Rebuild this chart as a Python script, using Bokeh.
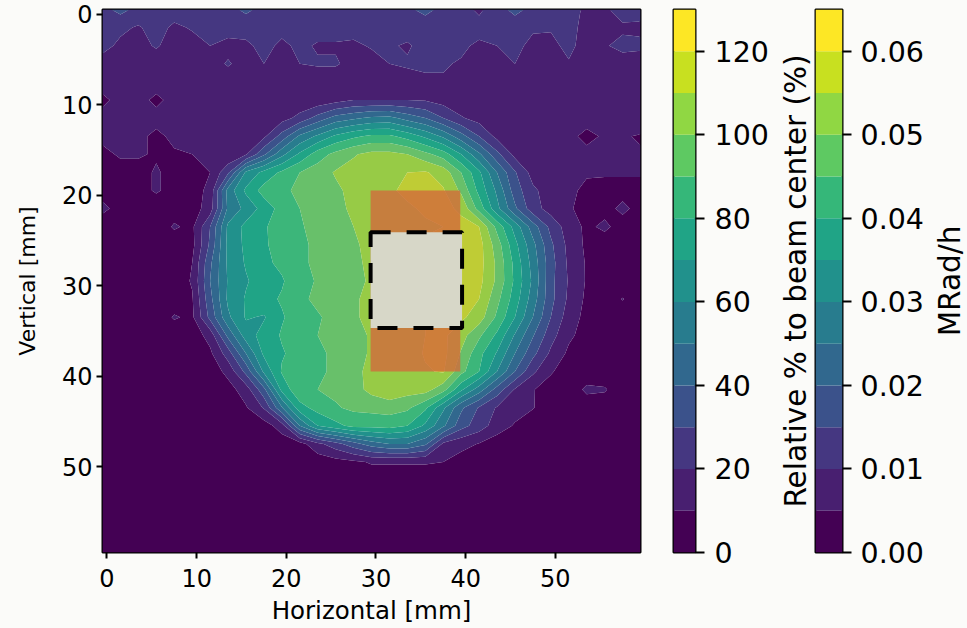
from bokeh.plotting import figure
from bokeh.layouts import row
from bokeh.models import FixedTicker, NumeralTickFormatter, Range1d, GlobalInlineStyleSheet, LinearAxis
from bokeh.embed import file_html
from bokeh.resources import INLINE

x_mm = [-0.5,1.5,3.5,5.5,7.5,9.5,11.5,13.5,15.5,17.5,19.5,21.5,23.5,25.5,27.5,29.5,31.5,33.5,35.5,37.5,39.5,41.5,43.5,45.5,47.5,49.5,51.5,53.5,55.5,57.5,59.5]
y_mm = list(x_mm)
dose = [
[27,33,27,26,25,25,26,27,32,27, 27,20,22,27,27,27,27,28,33,27, 24,18,26,33,27,27,24,18,18,25, 24],
[24,22,19,24,18,21,23,24,24,24, 23,24,24,24,24,24,24,24,24,24, 24,24,24,24,21,21,24,16,18,18, 18],
[23,18,17,21,16,16,20,17,18,23, 18,22,19,19,18,21,21,19,23,23, 22,18,20,22,18,17,23,15,19,23, 22],
[16,15,15,15,15,14,16,21,16,20, 17,20,21,21,17,16,20,21,22,21, 19,17,17,20,17,16,19,14,15,15, 15],
[14,14,14,14,14,14,14,14,14,14, 14,14,14,14,14,16,19,17,18,19, 14,14,14,14,14,14,14,14,14,14, 14],
[8,13,13,8,13,13,13,13,13,13, 13,13,13,16,20,20,20,20,19,16, 13,13,13,13,13,13,13,13,13,13, 13],
[13,13,13,13,13,13,13,13,13,14, 16,23,34,44,48,52,53,46,40,30, 21,16,14,17,14,13,13,13,13,13, 18],
[12,12,12,8,12,12,12,12,12,18, 34,52,62,72,78,82,82,76,68,58, 44,30,17,13,12,12,12,8,11,11, 9],
[8,11,11,9,9,10,12,11,19,38, 57,72,85,93,99,103,103,100,93,85, 70,52,33,17,13,12,12,12,11,11, 11],
[7,7,7,11,7,7,10,28,62,73, 82,90,95,101,104,106,107,110,111,106, 90,72,50,31,16,12,11,10.5,11,11, 11],
[7,7,7,11,7,5,13,54,72,84, 88,92,95,98,103,106,108,113,114,111, 98,77,58,35,22,15,11,9,7,7, 7],
[12,7,9,5,6,5,15,52,63,74, 84,90,93,97,102,105,105,108,112,113, 108,86,63,42,24,16,11,7,7,12, 7],
[5,5,5,5,11,8,30,62,73,79, 84,89,93,97,100,103,104,106,108,110, 113,110,87,66,45,27,15,8,12,6, 6],
[5,5,5,5,5,7,32,63,72,79, 83,88,92,95,99,102,108,110,112,112, 113,114,95,73,53,32,17,8,5,5, 5],
[5,5,5,5,5,10,38,62,71,78, 82,88,92,96,99,101,105,108,110,112, 114,114,98,77,56,34,18,9,5,5, 5],
[4,4,4,4,4,11,40,61,69,75, 79,86,91,95,98,101,105,108,110,112, 115,113,98,78,58,33,19,9,4,4, 4],
[4,4,4,4,4,9,37,62,71,77, 81,88,92,96,99,102,105,108,110,112, 113,110,93,75,55,33,18,8,4,10.5, 4],
[4,4,4,4,11,8,33,58,71,69, 79,85,89,93,98,104,105,108,110,112, 112,105,88,70,50,30,15,7,4,4, 4],
[4,4,4,4,4,4,14,43,65,74, 81,85,90,93,97,101,104,106,110,112, 104,92,78,59,41,24,12,6,4,4, 4],
[4,4,4,4,4,4,8,25,50,72, 79,84,88,92,97,101,103,105,111,113, 99,83,69,50,33,18,8,4,4,4, 4],
[4,4,4,4,4,4,4,13,33,62, 81,84,88,92,97,103,105,107,109,111, 93,80,60,40,22,11,5,4,4,4, 4],
[4,4,4,4,4,4,4,6,15,37, 73,88,90,92,96,103,108,104,104,94, 72,55,36,19,10.5,6,4,12,11,4, 4],
[4,4,4,4,4,4,4,4,9,21, 49,76,84,89,92,93,94,92,82,62, 42,29,19,14,10.5,5,4,4,4,4, 4],
[4,4,4,4,4,4,4,4,4,5, 15,50,70,77,83,83,84,80,68,52, 34,25,15,9,5,4,4,4,4,4, 4],
[4,4,4,4,4,4,4,4,4,4, 4,6,17,26,36,45,50,50,42,18, 13,9.5,5,4,4,4,4,4,4,4, 4],
[4,4,4,4,4,4,4,4,4,4, 4,4,4,6,8,11,11,11,11,10, 6,4,4,4,4,4,4,4,4,4, 4],
[4,4,4,4,4,4,4,4,4,4, 4,4,4,4,4,4,4,4,4,4, 4,4,4,4,4,4,4,4,4,4, 4],
[4,4,4,4,4,4,4,4,4,4, 4,4,4,4,4,4,4,4,4,4, 4,4,4,4,4,4,4,4,4,4, 4],
[4,4,4,4,4,4,4,4,4,4, 4,4,4,4,4,4,4,4,4,4, 4,4,4,4,4,4,4,4,4,4, 4],
[4,4,4,4,4,4,4,4,4,4, 4,4,4,4,4,4,4,4,4,4, 4,4,4,4,4,4,4,4,4,4, 4],
[4,4,4,4,4,4,4,4,4,4, 4,4,4,4,4,4,4,4,4,4, 4,4,4,4,4,4,4,4,4,4, 4],
]
levels_pct = [0,10,20,30,40,50,60,70,80,90,100,110,120,130]
levels_rate = [0,0.005,0.01,0.015,0.02,0.025,0.03,0.035,0.04,0.045,0.05,0.055,0.06,0.065]
band_colors = ["#440154","#481f70","#453781","#3b528b","#31688e","#287c8e","#21918c","#20a486","#35b779","#5ec962","#90d743","#c8e020","#fde725"]
field_colors = ["#440154","#481f70","#453781","#3b528b","#31688e","#287c8e","#21918c","#20a486","#3cb67a","#68c06a","#97cb46","#bfcc35","#fde725"]
ticks_xy = [0,10,20,30,40,50]
ticks_pct = [0,20,40,60,80,100,120]
ticks_rate = [0,0.01,0.02,0.03,0.04,0.05,0.06]
sample_left, sample_right, sample_top, sample_bottom = [29.4], [39.4], [19.5], [39.5]
die_left, die_right, die_top, die_bottom = [29.4], [39.6], [24.1], [34.7]

BG = "#fbfbf9"
FONT = "DejaVu Sans"
INK = "#000000"

p = figure(width=660, height=628, x_range=Range1d(-0.5, 59.5), y_range=Range1d(59.5, -0.5),
           output_backend="svg", toolbar_location=None, tools="",
           min_border_left=102, min_border_right=20, min_border_top=9, min_border_bottom=76,
           border_fill_color=BG, background_fill_color=BG)
p.stylesheets = [GlobalInlineStyleSheet(css="body{background:%s}" % BG)]
p.grid.visible = False
p.contour(x_mm, y_mm, dose, levels_pct, fill_color=field_colors, line_color=None)
p.quad(left=sample_left, right=sample_right, top=sample_top, bottom=sample_bottom,
       fill_color="#d26a3c", fill_alpha=0.8, line_color=None)
p.quad(left=die_left, right=die_right, top=die_top, bottom=die_bottom,
       fill_color="#d7d7c8", fill_alpha=1, line_color="black", line_width=4, line_dash="20 16")
p.outline_line_color = "black"
p.outline_line_width = 2
for ax, label, size in ((p.xaxis[0], "Horizontal [mm]", "24.5px"), (p.yaxis[0], "Vertical [mm]", "22px")):
    ax.ticker = FixedTicker(ticks=ticks_xy)
    ax.axis_label = label
    ax.axis_label_text_font = FONT
    ax.axis_label_text_font_style = "normal"
    ax.axis_label_text_font_size = size
    ax.axis_label_text_color = INK
    ax.major_label_text_font = FONT
    ax.major_label_text_font_size = "24px"
    ax.major_label_text_color = INK
    ax.major_tick_line_color = "black"
    ax.major_tick_line_width = 2
    ax.major_tick_out = 6
    ax.major_tick_in = 0
    ax.minor_tick_line_color = None
    ax.axis_line_color = None
p.xaxis[0].major_label_standoff = 10
p.yaxis[0].major_label_standoff = 4
p.xaxis[0].axis_label_standoff = 6
p.yaxis[0].axis_label_standoff = 19

def style_label(ax, label, standoff):
    ax.ticker = FixedTicker(ticks=[])
    ax.major_label_text_font_size = "1px"
    ax.major_label_standoff = 0
    ax.major_tick_line_color = None
    ax.minor_tick_line_color = None
    ax.axis_line_color = None
    ax.axis_label = label
    ax.axis_label_text_font = FONT
    ax.axis_label_text_font_style = "normal"
    ax.axis_label_text_font_size = "29.5px"
    ax.axis_label_text_color = INK
    ax.axis_label_standoff = standoff

def colour_bar(levels, ticks, width, left, high, tick_gap, numeral=None, left_label=None):
    f = figure(width=width, height=628, x_range=Range1d(0, 1), y_range=Range1d(0, high),
               output_backend="svg", toolbar_location=None, tools="",
               min_border_left=left, min_border_right=width-left-27, min_border_top=9, min_border_bottom=76,
               border_fill_color=BG, background_fill_color=BG)
    f.grid.visible = False
    f.xaxis.visible = False
    f.quad(left=0, right=1, bottom=levels[:-1], top=levels[1:], fill_color=band_colors, line_color=None)
    f.outline_line_color = "black"
    f.outline_line_width = 2
    ax = LinearAxis(ticker=FixedTicker(ticks=ticks))
    f.add_layout(ax, "right")
    if numeral:
        ax.formatter = NumeralTickFormatter(format=numeral)
    ax.major_label_text_font = FONT
    ax.major_label_text_font_size = "28.5px"
    ax.major_label_text_color = INK
    ax.major_label_standoff = tick_gap
    ax.major_tick_line_color = "black"
    ax.major_tick_line_width = 2
    ax.major_tick_out = 9
    ax.major_tick_in = 0
    ax.minor_tick_line_color = None
    ax.axis_line_color = None
    if left_label:
        style_label(f.yaxis[0], left_label, 3)
    else:
        f.yaxis[0].visible = False
    return f

c1 = colour_bar(levels_pct, ticks_pct, 111, 13, 130, 10)
c2 = colour_bar(levels_rate, ticks_rate, 155, 44, 0.065, 9, numeral="0.00", left_label="Relative % to beam center (%)")
c3 = figure(width=41, height=628, x_range=Range1d(0, 1), y_range=Range1d(0, 1),
            output_backend="svg", toolbar_location=None, tools="",
            min_border_left=38, min_border_right=0, min_border_top=9, min_border_bottom=76,
            border_fill_color=BG, background_fill_color=BG, outline_line_color=None)
c3.grid.visible = False
c3.xaxis.visible = False
style_label(c3.yaxis[0], "MRad/h", -2)

page = row(p, c1, c2, c3, spacing=0)
open("out.html", "w").write(file_html(page, INLINE))
